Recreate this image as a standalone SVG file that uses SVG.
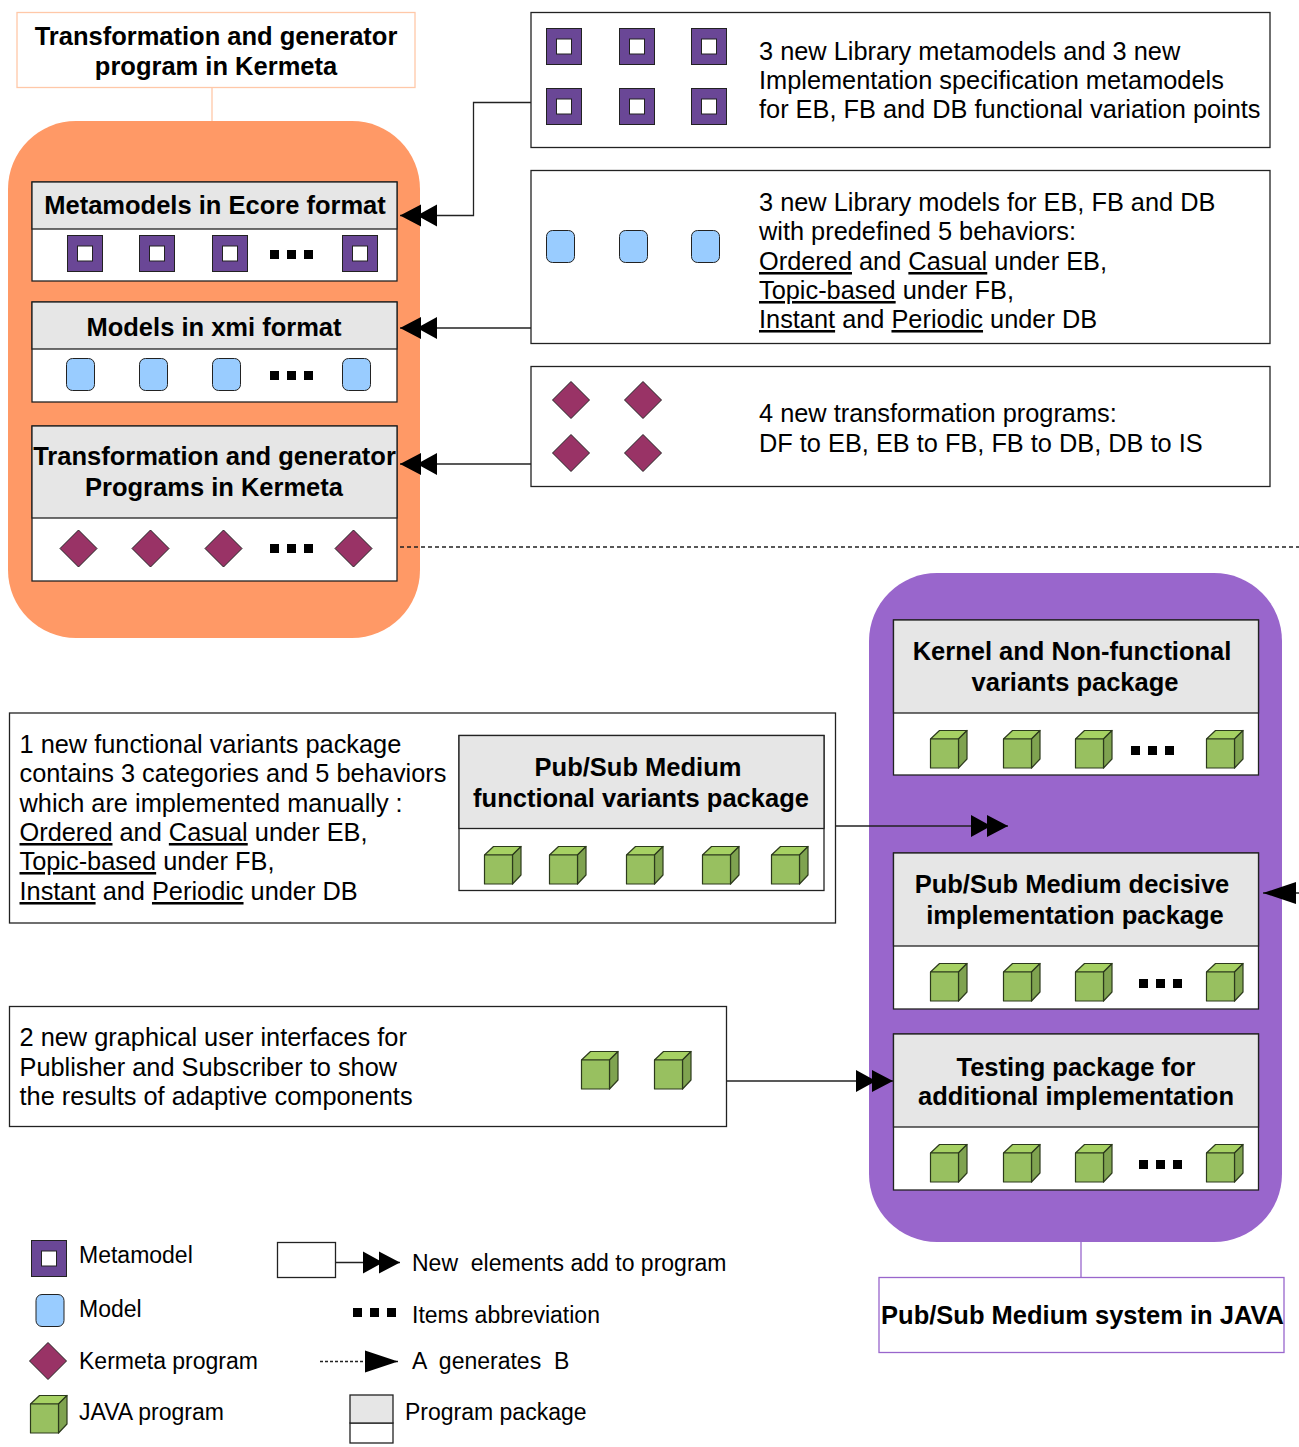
<svg xmlns="http://www.w3.org/2000/svg" width="1299" height="1447" viewBox="0 0 1299 1447">
<style>
text{font-family:"Liberation Sans",Arial,sans-serif;fill:#000;white-space:pre}
.b{font-weight:bold;font-size:25.5px;text-anchor:middle}
.t{font-size:25.35px}
.l{font-size:23px}
.u{text-decoration:underline}
.box{fill:#fff;stroke:#222;stroke-width:1.3}
.hd{fill:#e6e6e6;stroke:#222;stroke-width:1.3}
.cn{fill:none;stroke:#222;stroke-width:1.3}
</style>
<defs>
<marker id="dbl" markerUnits="userSpaceOnUse" markerWidth="40" markerHeight="26" refX="37" refY="13" orient="auto"><path d="M0 2L20 13L0 24ZM16 2L37 13L16 24Z" fill="#000"/></marker>
<marker id="sgl" markerUnits="userSpaceOnUse" markerWidth="36" markerHeight="26" refX="33" refY="13" orient="auto"><path d="M0 2L33 13L0 24Z" fill="#000"/></marker>
<g id="mm"><rect x="0.5" y="0.5" width="35" height="36" fill="#6a4796" stroke="#222"/><rect x="10.5" y="11" width="15" height="15" fill="#fff" stroke="#222"/></g>
<rect id="md" x="0.5" y="0.5" width="28" height="32" rx="6" fill="#99ccff" stroke="#222"/>
<polygon id="kp" points="18.5,0 37,18.5 18.5,37 0,18.5" fill="#993366" stroke="#222"/>
<g id="cb" stroke="#2c3a1c" stroke-width="1.2" stroke-linejoin="round"><polygon points="0.5,9 9.5,0.5 37,0.500 28.500,9" fill="#a6d163"/><polygon points="28.5,9 37,0.500 37,29 28.5,38" fill="#7fa350"/><rect x="0.5" y="9" width="28" height="29" fill="#98c060"/></g>
<g id="dt" fill="#000"><rect width="9" height="9"/><rect x="17" width="9" height="9"/><rect x="34" width="9" height="9"/></g>
</defs>

<g id="kermeta-system">
<rect x="8" y="121" width="412" height="517" rx="68" fill="#ff9966"/>
<line x1="212" y1="87" x2="212" y2="121" stroke="#ffc8a8" stroke-width="1.3"/>
<rect x="17" y="12.500" width="398" height="75" fill="#fff" stroke="#ffc8a8" stroke-width="1.3"/>
<text class="b" x="216" y="45">Transformation and generator</text>
<text class="b" x="216" y="75">program in Kermeta</text>
</g>
<g id="java-system">
<rect x="869" y="573" width="413" height="669" rx="68" fill="#9966cc"/>
<line x1="1081" y1="1242" x2="1081" y2="1277" stroke="#9966cc" stroke-width="1.300"/>
<rect x="879" y="1277.500" width="405" height="75" fill="#fff" stroke="#9966cc" stroke-width="1.3"/>
<text class="b" x="1082.500" y="1324">Pub/Sub Medium system in JAVA</text>
</g>

<g id="pkg-metamodels">
<rect class="box" x="32" y="182" width="365" height="99"/><rect class="hd" x="32" y="182" width="365" height="47"/>
<text class="b" x="215" y="214">Metamodels in Ecore format</text>
<use href="#mm" x="67" y="235"/><use href="#mm" x="139" y="235"/><use href="#mm" x="212" y="235"/><use href="#dt" x="270" y="250"/><use href="#mm" x="342" y="235"/>
</g>
<g id="pkg-models">
<rect class="box" x="32" y="302" width="365" height="100"/><rect class="hd" x="32" y="302" width="365" height="47"/>
<text class="b" x="214" y="336">Models in xmi format</text>
<use href="#md" x="66" y="358"/><use href="#md" x="139" y="358"/><use href="#md" x="212" y="358"/><use href="#dt" x="270" y="371"/><use href="#md" x="342" y="358"/>
</g>
<g id="pkg-kermeta">
<rect class="box" x="32" y="426" width="365" height="155"/><rect class="hd" x="32" y="426" width="365" height="92"/>
<text class="b" x="214.500" y="465">Transformation and generator</text>
<text class="b" x="214" y="496">Programs in Kermeta</text>
<use href="#kp" x="60" y="530"/><use href="#kp" x="132" y="530"/><use href="#kp" x="205" y="530"/><use href="#dt" x="270" y="544"/><use href="#kp" x="335" y="530"/>
</g>

<g id="note-metamodels">
<rect class="box" x="531" y="12.500" width="739" height="135"/>
<use href="#mm" x="546" y="28"/><use href="#mm" x="619" y="28"/><use href="#mm" x="691" y="28"/><use href="#mm" x="546" y="88"/><use href="#mm" x="619" y="88"/><use href="#mm" x="691" y="88"/>
<text class="t" x="759" y="60">3 new Library metamodels and 3 new</text>
<text class="t" x="759" y="89">Implementation specification metamodels</text>
<text class="t" x="759" y="118">for EB, FB and DB functional variation points</text>
</g>
<g id="note-models">
<rect class="box" x="531" y="170.500" width="739" height="173"/>
<use href="#md" x="546" y="230"/><use href="#md" x="619" y="230"/><use href="#md" x="691" y="230"/>
<text class="t" x="759" y="211">3 new Library models for EB, FB and DB</text>
<text class="t" x="759" y="240">with predefined 5 behaviors:</text>
<text class="t" x="759" y="270"><tspan class="u">Ordered</tspan> and <tspan class="u">Casual</tspan> under EB,</text>
<text class="t" x="759" y="299"><tspan class="u">Topic-based</tspan> under FB,</text>
<text class="t" x="759" y="328"><tspan class="u">Instant</tspan> and <tspan class="u">Periodic</tspan> under DB</text>
</g>
<g id="note-programs">
<rect class="box" x="531" y="366.500" width="739" height="120"/>
<use href="#kp" x="552.500" y="381.500"/><use href="#kp" x="624.500" y="381.500"/><use href="#kp" x="552.500" y="434.500"/><use href="#kp" x="624.500" y="434.500"/>
<text class="t" x="759" y="422">4 new transformation programs:</text>
<text class="t" x="759" y="452">DF to EB, EB to FB, FB to DB, DB to IS</text>
</g>

<g id="pkg-kernel">
<rect class="box" x="893.500" y="620" width="365" height="155"/><rect class="hd" x="893.500" y="620" width="365" height="93"/>
<text class="b" x="1072" y="660">Kernel and Non-functional</text>
<text class="b" x="1075" y="691">variants package</text>
<use href="#cb" x="930" y="730"/><use href="#cb" x="1003" y="730"/><use href="#cb" x="1075" y="730"/><use href="#dt" x="1131" y="746"/><use href="#cb" x="1206" y="730"/>
</g>
<g id="pkg-decisive">
<rect class="box" x="893.500" y="853" width="365" height="156"/><rect class="hd" x="893.500" y="853" width="365" height="93"/>
<text class="b" x="1072" y="893">Pub/Sub Medium decisive</text>
<text class="b" x="1075" y="924">implementation package</text>
<use href="#cb" x="930" y="963"/><use href="#cb" x="1003" y="963"/><use href="#cb" x="1075" y="963"/><use href="#dt" x="1139" y="979"/><use href="#cb" x="1206" y="963"/>
</g>
<g id="pkg-testing">
<rect class="box" x="893.500" y="1034" width="365" height="156"/><rect class="hd" x="893.500" y="1034" width="365" height="93"/>
<text class="b" x="1076" y="1076">Testing package for</text>
<text class="b" x="1076" y="1105">additional implementation</text>
<use href="#cb" x="930" y="1144"/><use href="#cb" x="1003" y="1144"/><use href="#cb" x="1075" y="1144"/><use href="#dt" x="1139" y="1160"/><use href="#cb" x="1206" y="1144"/>
</g>

<g id="note-variants">
<rect class="box" x="9.500" y="713" width="826" height="210"/>
<text class="t" x="19.500" y="753">1 new functional variants package</text>
<text class="t" x="19.500" y="782">contains 3 categories and 5 behaviors</text>
<text class="t" x="19.500" y="812">which are implemented manually :</text>
<text class="t" x="19.500" y="841"><tspan class="u">Ordered</tspan> and <tspan class="u">Casual</tspan> under EB,</text>
<text class="t" x="19.500" y="870"><tspan class="u">Topic-based</tspan> under FB,</text>
<text class="t" x="19.500" y="900"><tspan class="u">Instant</tspan> and <tspan class="u">Periodic</tspan> under DB</text>
</g>
<g id="pkg-functional">
<rect class="box" x="459" y="735.500" width="365" height="155"/><rect class="hd" x="459" y="735.500" width="365" height="93"/>
<text class="b" x="638" y="776">Pub/Sub Medium</text>
<text class="b" x="641" y="807">functional variants package</text>
<use href="#cb" x="484" y="846"/><use href="#cb" x="549" y="846"/><use href="#cb" x="626" y="846"/><use href="#cb" x="702" y="846"/><use href="#cb" x="771" y="846"/>
</g>
<g id="note-gui">
<rect class="box" x="9.500" y="1006.500" width="717" height="120"/>
<text class="t" x="19.500" y="1046">2 new graphical user interfaces for</text>
<text class="t" x="19.500" y="1076">Publisher and Subscriber to show</text>
<text class="t" x="19.500" y="1105">the results of adaptive components</text>
<use href="#cb" x="581" y="1051"/><use href="#cb" x="654" y="1051"/>
</g>

<g id="connectors">
<path class="cn" d="M531 102.500H473.500V215.500H400" marker-end="url(#dbl)"/>
<path class="cn" d="M531 328H400" marker-end="url(#dbl)"/>
<path class="cn" d="M531 464H400" marker-end="url(#dbl)"/>
<path class="cn" d="M835 826H1008" marker-end="url(#dbl)"/>
<path class="cn" d="M727 1081H893" marker-end="url(#dbl)"/>
<path class="cn" d="M1299 893H1263" marker-end="url(#sgl)"/>
<path class="cn" d="M400 547H1299" stroke-dasharray="4 3"/>
</g>

<g id="legend">
<use href="#mm" x="31" y="1240"/><text class="l" x="79" y="1263">Metamodel</text>
<use href="#md" x="35.500" y="1294"/><text class="l" x="79" y="1317">Model</text>
<use href="#kp" x="29.500" y="1342.500"/><text class="l" x="79" y="1369">Kermeta program</text>
<use href="#cb" x="30" y="1395"/><text class="l" x="79" y="1420">JAVA program</text>
<rect class="box" x="277.500" y="1242.500" width="58" height="35"/>
<path class="cn" d="M335 1262.500H400" marker-end="url(#dbl)"/>
<text class="l" x="412" y="1271">New  elements add to program</text>
<use href="#dt" x="353" y="1308"/><text class="l" x="412" y="1323">Items abbreviation</text>
<path class="cn" d="M320 1361.500H398" stroke-dasharray="3 2" marker-end="url(#sgl)"/>
<text class="l" x="412" y="1369">A  generates  B</text>
<rect class="box" x="350" y="1423" width="43" height="20"/><rect class="hd" x="350" y="1395" width="43" height="28"/>
<text class="l" x="405" y="1420">Program package</text>
</g>
</svg>
